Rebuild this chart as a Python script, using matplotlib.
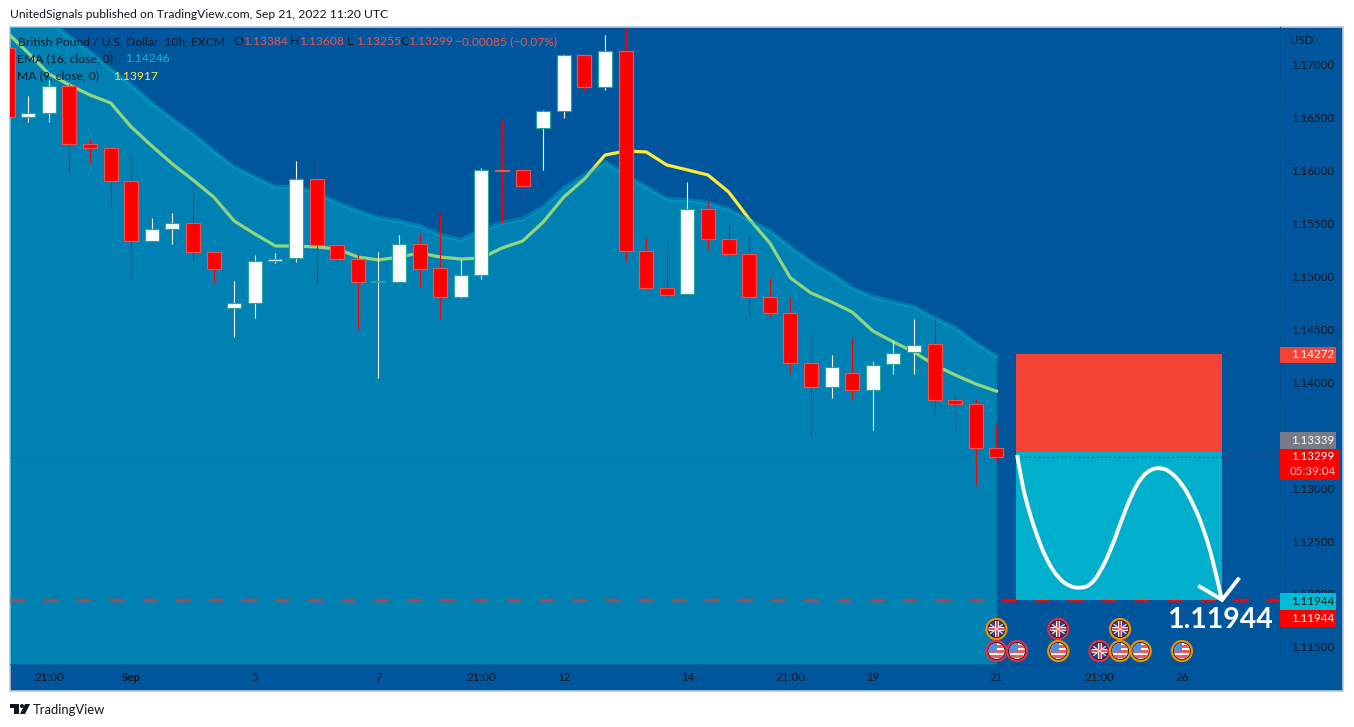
import numpy as np
import matplotlib
matplotlib.use("Agg")
import matplotlib.pyplot as plt
from matplotlib.patches import Circle, Rectangle, Polygon, PathPatch
from matplotlib.path import Path

plt.rcParams['lines.scale_dashes'] = False
plt.rcParams['font.family'] = 'Lato'

#%% Data
opens = [1.17161, 1.16508, 1.16546, 1.16802, 1.16253, 1.16215, 1.15904, 1.15336, 1.15450, 1.15507,
         1.15232, 1.14703, 1.14750, 1.15147, 1.15176, 1.15922, 1.15299, 1.15166, 1.14949, 1.14949,
         1.15308, 1.15081, 1.14807, 1.15015, 1.16008, 1.16008, 1.16405, 1.16565, 1.17095, 1.16792,
         1.17132, 1.15242, 1.14892, 1.14836, 1.15639, 1.15355, 1.15214, 1.14807, 1.14656, 1.14183,
         1.13956, 1.14089, 1.13928, 1.14174, 1.14287, 1.14363, 1.13834, 1.13796, 1.13384]
highs = [1.17161, 1.16707, 1.16858, 1.16820, 1.16301, 1.16225, 1.16168, 1.15554, 1.15601, 1.15885,
         1.15232, 1.14958, 1.15204, 1.15223, 1.16093, 1.16083, 1.15327, 1.15214, 1.15232, 1.15393,
         1.15412, 1.15601, 1.15157, 1.16026, 1.16480, 1.16017, 1.16575, 1.17104, 1.17095, 1.17284,
         1.17350, 1.15365, 1.15318, 1.15894, 1.15705, 1.15488, 1.15384, 1.14987, 1.14807, 1.14467,
         1.14259, 1.14420, 1.14202, 1.14401, 1.14599, 1.14599, 1.13871, 1.13843, 1.13608]
lows = [1.16508, 1.16461, 1.16461, 1.15989, 1.16074, 1.15677, 1.14977, 1.15336, 1.15308, 1.15147,
        1.14939, 1.14429, 1.14609, 1.15129, 1.15138, 1.14939, 1.15119, 1.14505, 1.14042, 1.14949,
        1.14902, 1.14599, 1.14798, 1.14977, 1.15507, 1.15733, 1.16008, 1.16499, 1.16754, 1.16764,
        1.15147, 1.14892, 1.14798, 1.14836, 1.15261, 1.15129, 1.14628, 1.14618, 1.14089, 1.13493,
        1.13852, 1.13843, 1.13550, 1.14079, 1.14079, 1.13711, 1.13569, 1.13030, 1.13255]
closes = [1.16508, 1.16546, 1.16802, 1.16253, 1.16215, 1.15904, 1.15336, 1.15450, 1.15507, 1.15232,
          1.15072, 1.14750, 1.15147, 1.15166, 1.15922, 1.15299, 1.15166, 1.14949, 1.14955, 1.15308,
          1.15072, 1.14807, 1.15015, 1.16008, 1.16000, 1.15856, 1.16565, 1.17095, 1.16792, 1.17132,
          1.15242, 1.14892, 1.14826, 1.15639, 1.15355, 1.15214, 1.14807, 1.14656, 1.14183, 1.13956,
          1.14145, 1.13928, 1.14164, 1.14278, 1.14354, 1.13834, 1.13796, 1.13380, 1.13299]

ema = [1.17728, 1.17577, 1.17425, 1.17265, 1.17123, 1.16962, 1.16811, 1.16641, 1.16490, 1.16348,
       1.16187, 1.16036, 1.15941, 1.15847, 1.15847, 1.15790, 1.15696, 1.15620, 1.15554, 1.15525,
       1.15478, 1.15393, 1.15346, 1.15440, 1.15507, 1.15544, 1.15658, 1.15837, 1.15960, 1.16083,
       1.15960, 1.15847, 1.15733, 1.15724, 1.15696, 1.15639, 1.15535, 1.15431, 1.15280, 1.15138,
       1.15025, 1.14892, 1.14807, 1.14760, 1.14713, 1.14609, 1.14514, 1.14372, 1.14246]
ma = [1.17302, 1.17113, 1.16915, 1.16811, 1.16716, 1.16641, 1.16414, 1.16234, 1.16064, 1.15913,
      1.15752, 1.15525, 1.15403, 1.15289, 1.15289, 1.15280, 1.15261, 1.15185, 1.15157, 1.15185,
      1.15223, 1.15185, 1.15166, 1.15176, 1.15270, 1.15336, 1.15516, 1.15752, 1.15922, 1.16149,
      1.16187, 1.16178, 1.16055, 1.16008, 1.15960, 1.15800, 1.15544, 1.15318, 1.14987, 1.14845,
      1.14760, 1.14665, 1.14486, 1.14382, 1.14287, 1.14164, 1.14070, 1.13985, 1.13917]

price_ticks = [1.115, 1.12, 1.125, 1.13, 1.135, 1.14, 1.145, 1.15, 1.155, 1.16, 1.165, 1.17]
time_ticks = [2, 6, 12, 18, 23, 27, 33, 38, 42, 48, 53, 57]
time_labels = ['21:00', 'Sep', '5', '7', '21:00', '12', '14', '21:00', '19', '21', '21:00', '26']

entry_price = 1.13339
stop_price = 1.14272
target_price = 1.11944
last_price = 1.13299
box_bars = [49, 59]

path_bars = [49.01, 49.22, 49.54, 49.95, 50.44, 51.0, 51.57, 52.05, 52.54, 53.02, 53.59,
             54.08, 54.56, 55.05, 55.53, 55.94, 56.42, 57.0, 57.55, 58.12, 58.61, 58.96]
path_prices = [1.13314, 1.13061, 1.12810, 1.12558, 1.12321, 1.12148, 1.12069, 1.12054, 1.12078,
               1.12196, 1.12432, 1.12699, 1.12936, 1.13109, 1.13181, 1.13194, 1.13163, 1.13046,
               1.12857, 1.12589, 1.12243, 1.11934]
arrow_bars = [57.88, 58.96, 59.74]
arrow_prices = [1.12069, 1.11944, 1.12139]

uk_events = [(48, 0, '#f09000'), (51, 0, '#e0304a'), (54, 0, '#f09000'), (53, 1, '#e0304a')]
us_events = [(48, 1, '#e0304a'), (49, 1, '#e0304a'), (51, 1, '#f09000'), (54, 1, '#f09000'),
             (55, 1, '#f09000'), (57, 1, '#f09000')]

BG = '#00569c'
TXT = '#131722'
W, H = 1354, 727
AXIS_FS = 8.3
LEG_FS = 8.75

#%% Figure, one axes for the chart and two full size ones in pixels
fig = plt.figure(figsize=(W / 100, H / 100), dpi=100, facecolor='white')

back = fig.add_axes([0, 0, 1, 1], zorder=0)
back.set_xlim(0, W)
back.set_ylim(H, 0)
back.axis('off')
back.add_patch(Rectangle((10, 27), 1333, 664, facecolor=BG, edgecolor='#b4c8dc', lw=1.2))
back.text(10, 14, 'UnitedSignals published on TradingView.com, Sep 21, 2022 11:20 UTC',
          fontsize=8.7, color=TXT, va='center')

L, R, T, B = 10, 1280, 27, 664
ax = fig.add_axes([L / W, 1 - B / H, (R - L) / W, (B - T) / H], zorder=1)
ax.patch.set_alpha(0)
ax.set_xlim(0.112, 61.77)
ax.set_ylim(1.11338, 1.17359)
for s in ['top', 'left']:
    ax.spines[s].set_visible(False)
for s in ['right', 'bottom']:
    ax.spines[s].set_color('#004f8f')
    ax.spines[s].set_linewidth(0.8)

ax.yaxis.tick_right()
ax.set_yticks(price_ticks)
ax.set_yticklabels(['%.5f' % p for p in price_ticks])
ax.set_xticks(time_ticks)
ax.set_xticklabels(time_labels)
ax.tick_params(length=0, labelsize=AXIS_FS, colors=TXT)
ax.tick_params(axis='y', pad=8)
ax.tick_params(axis='x', pad=5.5)
ax.get_xticklabels()[1].set_fontweight('bold')

bars = np.arange(len(opens))
opens = np.array(opens)
closes = np.array(closes)
highs = np.array(highs)
lows = np.array(lows)

#%% Lines under the area, the area tints them
ax.plot(bars, ma, color='#ffeb3b', lw=2.3, zorder=2)
ax.plot([0.112, 61.77], [target_price, target_price], color='#ff0000', lw=2.5,
        dashes=(10.8, 13), dash_capstyle='butt', zorder=2)
ax.fill_between(bars, 1.11338, ema, color='#00bcd4', alpha=0.43, lw=0, zorder=3)
ax.plot(bars, ema, color='#00bcd4', alpha=0.35, lw=3, zorder=3)
ax.plot([0.112, 61.77], [last_price, last_price], color='#ff0000', alpha=0.7, lw=0.8,
        dashes=(1, 2.2), zorder=3)

#%% Candles
up = closes >= opens
tops = np.maximum(opens, closes)
bots = np.minimum(opens, closes)
ax.vlines(bars[up], lows[up], highs[up], color='white', lw=0.8, zorder=4)
ax.vlines(bars[~up], lows[~up], highs[~up], color='#ff0000', lw=0.8, zorder=4)
ax.bar(bars[up], (tops - bots)[up], bottom=bots[up], width=0.68, color='white',
       edgecolor='#26a69a', lw=0.85, zorder=5)
ax.bar(bars[~up], (tops - bots)[~up], bottom=bots[~up], width=0.68, color='#ff0000',
       edgecolor='#ef5350', lw=0.85, zorder=5)

#%% Short position tool
ax.add_patch(Rectangle((box_bars[0] - 0.03, entry_price), box_bars[1] - box_bars[0],
                       stop_price - entry_price, facecolor='#f44336', lw=0, zorder=4))
ax.add_patch(Rectangle((box_bars[0] - 0.03, target_price), box_bars[1] - box_bars[0],
                       entry_price - target_price, facecolor='#00afcb', lw=0, zorder=4))
ax.plot([box_bars[0] - 0.03, 61.77], [last_price, last_price], color='#ff0000', lw=0.8,
        dashes=(1, 2.2), zorder=4.5)

# read points act as control points of a quadratic path
verts = [(path_bars[0], path_prices[0])]
codes = [Path.MOVETO]
for k in range(1, len(path_bars) - 1):
    verts.append((path_bars[k], path_prices[k]))
    codes.append(Path.CURVE3)
    if k < len(path_bars) - 2:
        verts.append(((path_bars[k] + path_bars[k + 1]) / 2, (path_prices[k] + path_prices[k + 1]) / 2))
    else:
        verts.append((path_bars[-1], path_prices[-1]))
    codes.append(Path.CURVE3)
ax.add_patch(PathPatch(Path(verts, codes), facecolor='none', edgecolor='white', lw=2.8, zorder=6))
ax.plot(arrow_bars, arrow_prices, color='white', lw=2.8, solid_joinstyle='miter', zorder=6)

#%% Everything on top of the chart, in pixels
top = fig.add_axes([0, 0, 1, 1], zorder=5)
top.patch.set_alpha(0)
top.set_xlim(0, W)
top.set_ylim(H, 0)
top.axis('off')


def bar_px(i):
    return 7.7 + 20.6 * i


def tag(x0, x1, y0, y1, color, label, tcolor='white'):
    top.add_patch(Rectangle((x0, y0), x1 - x0, y1 - y0, facecolor=color, lw=0))
    top.text(1291, (y0 + y1) / 2, label, color=tcolor, fontsize=AXIS_FS, va='center')


def flag(i, row, kind, ring):
    cx = bar_px(i)
    cy = 629 + row * 22
    top.add_patch(Circle((cx, cy), 10, facecolor='#131722', edgecolor=ring, lw=1.6))
    clip = Circle((cx, cy), 8, transform=top.transData)
    parts = []
    if kind == 'uk':
        parts.append(Rectangle((cx - 9, cy - 9), 18, 18, facecolor='#24478f', lw=0))
        parts.append(top.plot([cx - 8, cx + 8], [cy - 6, cy + 6], color='#f4c6cc', lw=1.0)[0])
        parts.append(top.plot([cx - 8, cx + 8], [cy + 6, cy - 6], color='#f4c6cc', lw=1.0)[0])
        parts.append(Rectangle((cx - 9, cy - 2), 18, 4, facecolor='white', lw=0))
        parts.append(Rectangle((cx - 2, cy - 9), 4, 18, facecolor='white', lw=0))
        parts.append(Rectangle((cx - 9, cy - 1), 18, 2, facecolor='#e8505b', lw=0))
        parts.append(Rectangle((cx - 1, cy - 9), 2, 18, facecolor='#e8505b', lw=0))
    else:
        parts.append(Rectangle((cx - 9, cy - 9), 18, 18, facecolor='white', lw=0))
        for k in range(3):
            parts.append(Rectangle((cx - 9, cy - 6 + k * 5), 18, 2.5, facecolor='#f05a5a', lw=0))
        parts.append(Rectangle((cx - 9, cy - 9), 9.5, 9.5, facecolor='#4a90e2', lw=0))
    for p in parts:
        if isinstance(p, Rectangle):
            top.add_patch(p)
        p.set_clip_path(clip)


for i, row, ring in uk_events:
    flag(i, row, 'uk', ring)
for i, row, ring in us_events:
    flag(i, row, 'us', ring)

tag(1280, 1336, 347, 363, '#f44336', '%.5f' % stop_price)
tag(1280, 1336, 432, 449, '#787b86', '%.5f' % entry_price)
top.add_patch(Rectangle((1280, 449), 60, 31, facecolor='#ff0000', lw=0))
top.text(1291, 456.5, '%.5f' % last_price, color='white', fontsize=AXIS_FS, va='center')
top.text(1290, 471.5, '05:39:04', color='#ffc8c8', fontsize=AXIS_FS, va='center')
tag(1280, 1336, 593, 610, '#00bcd4', '%.5f' % target_price, TXT)
tag(1280, 1336, 610, 627, '#ff0000', '%.5f' % target_price)
top.text(1290, 41, 'USD', color=TXT, fontsize=AXIS_FS, va='center')
top.text(1167, 619.5, '1.11944', color='white', fontsize=20.4, fontweight='bold', va='center')

#%% Legend rows
legend_y = 41.5
top.text(18, legend_y, 'British Pound / U.S. Dollar, 10h, FXCM', color=TXT, fontsize=LEG_FS, va='center')
for lx, letter, vx, val in [(233, 'O', 243, '1.13384'), (290, 'H', 299, '1.13608'),
                            (347, 'L', 356, '1.13255'), (400, 'C', 408, '1.13299')]:
    top.text(lx, legend_y, letter, color=TXT, fontsize=LEG_FS, va='center')
    top.text(vx, legend_y, val, color='#ef5350', fontsize=LEG_FS, va='center')
top.text(455, legend_y, '\u22120.00085 (\u22120.07%)', color='#ef5350', fontsize=LEG_FS, va='center')
top.text(17, 59, 'EMA (16, close, 0)', color=TXT, fontsize=LEG_FS, va='center')
top.text(125, 59, '1.14246', color='#00bcd4', fontsize=LEG_FS, va='center')
top.text(17, 76, 'MA (9, close, 0)', color=TXT, fontsize=LEG_FS, va='center')
top.text(113, 76, '1.13917', color='#ffeb3b', fontsize=LEG_FS, va='center')

#%% TradingView logo and name
top.add_patch(Polygon([(10, 704), (19, 704), (19, 714), (14, 714), (14, 708), (10, 708)], facecolor=TXT, lw=0))
top.add_patch(Circle((22, 706), 2, facecolor=TXT, lw=0))
top.add_patch(Polygon([(25, 704), (30, 704), (25, 714), (20, 714)], facecolor=TXT, lw=0))
top.text(33, 709.5, 'TradingView', color=TXT, fontsize=9.4, va='center')

fig.savefig('out.png', dpi=100)
